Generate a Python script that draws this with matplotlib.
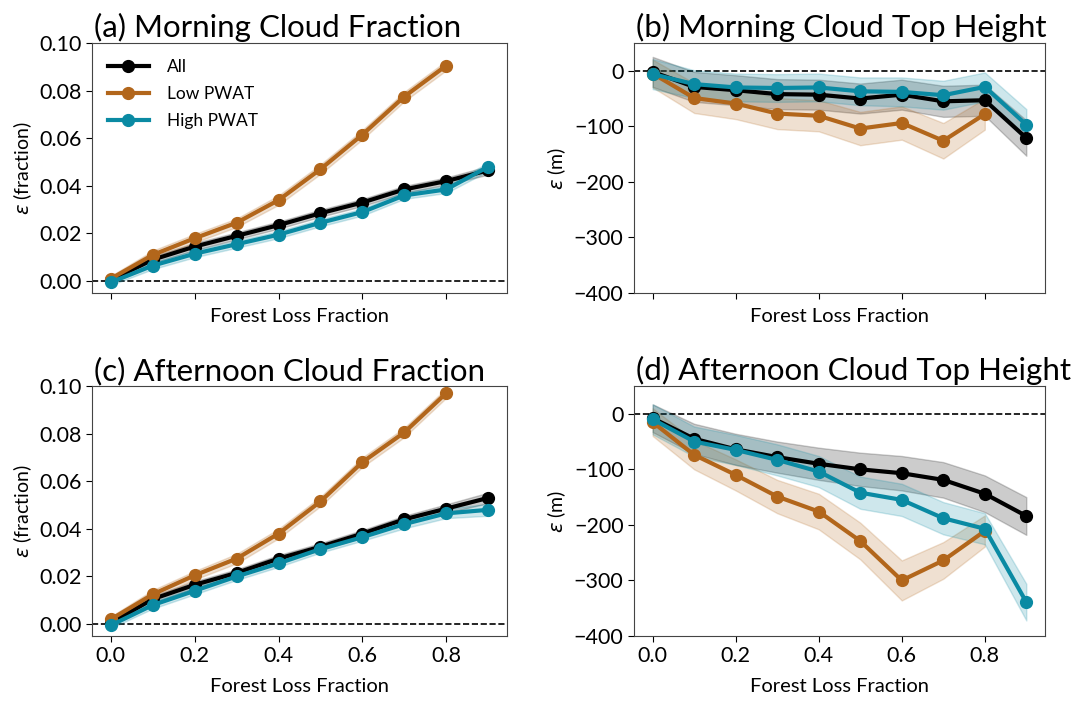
import matplotlib
matplotlib.use("Agg")
import matplotlib.pyplot as plt
import numpy as np

plt.rcParams['font.family'] = ['Lato', 'DejaVu Sans']
plt.rcParams['mathtext.fontset'] = 'dejavusans'

forest_loss = [0.0, 0.1, 0.2, 0.3, 0.4, 0.5, 0.6, 0.7, 0.8, 0.9]
forest_loss_low = [0.0, 0.1, 0.2, 0.3, 0.4, 0.5, 0.6, 0.7, 0.8]

# (a) Morning cloud fraction
a_all = [0.0005, 0.009, 0.0145, 0.019, 0.0235, 0.0285, 0.033, 0.0385, 0.042, 0.0465]
a_all_err = [0.0012, 0.0015, 0.0015, 0.0015, 0.0015, 0.0015, 0.0015, 0.0015, 0.0015, 0.0018]
a_low = [0.001, 0.011, 0.018, 0.0245, 0.034, 0.047, 0.0615, 0.0775, 0.0905]
a_low_err = [0.0012, 0.0018, 0.0018, 0.0018, 0.002, 0.002, 0.002, 0.002, 0.002]
a_high = [-0.0005, 0.0065, 0.0115, 0.0155, 0.0195, 0.0245, 0.029, 0.036, 0.0385, 0.048]
a_high_err = [0.0012, 0.0015, 0.0015, 0.0015, 0.0015, 0.0015, 0.0015, 0.0015, 0.0015, 0.0018]

# (b) Morning cloud top height
b_all = [-2, -29, -35, -42, -43, -50, -43, -55, -53, -121]
b_all_err = [27, 27, 27, 27, 27, 27, 27, 28, 28, 32]
b_low = [-5, -49, -59, -77, -81, -104, -94, -126, -78]
b_low_err = [25, 27, 28, 28, 28, 30, 30, 32, 28]
b_high = [-6, -24, -30, -31, -30, -37, -38, -44, -29, -97]
b_high_err = [27, 25, 25, 25, 25, 25, 26, 26, 26, 28]

# (c) Afternoon cloud fraction
c_all = [0.0005, 0.0105, 0.0165, 0.0215, 0.0275, 0.0325, 0.038, 0.044, 0.0485, 0.053]
c_all_err = [0.0012, 0.0015, 0.0015, 0.0015, 0.0015, 0.0015, 0.0015, 0.0015, 0.0018, 0.0022]
c_low = [0.002, 0.0125, 0.0205, 0.0275, 0.038, 0.0515, 0.068, 0.0805, 0.097]
c_low_err = [0.0012, 0.0018, 0.0018, 0.002, 0.002, 0.002, 0.002, 0.002, 0.002]
c_high = [-0.0005, 0.008, 0.014, 0.020, 0.0255, 0.0315, 0.0365, 0.042, 0.0465, 0.048]
c_high_err = [0.0012, 0.0015, 0.0015, 0.0015, 0.0015, 0.0015, 0.0015, 0.0018, 0.002, 0.0025]

# (d) Afternoon cloud top height
d_all = [-8, -45, -64, -78, -90, -100, -107, -119, -144, -184]
d_all_err = [25, 27, 28, 28, 29, 30, 31, 32, 33, 34]
d_low = [-15, -74, -110, -149, -176, -229, -300, -264, -211]
d_low_err = [25, 26, 28, 30, 32, 33, 36, 33, 28]
d_high = [-10, -50, -65, -83, -104, -142, -155, -188, -207, -339]
d_high_err = [27, 27, 27, 28, 28, 29, 29, 29, 28, 33]

titles = ["(a) Morning Cloud Fraction", "(b) Morning Cloud Top Height",
          "(c) Afternoon Cloud Fraction", "(d) Afternoon Cloud Top Height"]
ylabels = [r"$\varepsilon$ (fraction)", r"$\varepsilon$ (m)",
           r"$\varepsilon$ (fraction)", r"$\varepsilon$ (m)"]
labels = ["All", "Low PWAT", "High PWAT"]
colors = ["black", "#b2661b", "#0a8aa3"]

panels = [
    (a_all, a_all_err, a_low, a_low_err, a_high, a_high_err),
    (b_all, b_all_err, b_low, b_low_err, b_high, b_high_err),
    (c_all, c_all_err, c_low, c_low_err, c_high, c_high_err),
    (d_all, d_all_err, d_low, d_low_err, d_high, d_high_err),
]

fig = plt.figure(figsize=(10.86, 7.02), dpi=100)
W, H = 1086, 702
boxes = [(92, 43, 507, 293), (634, 43, 1045, 293),
         (92, 386, 507, 636), (634, 386, 1045, 636)]
axes = []
for (l, t, r, b) in boxes:
    ax = fig.add_axes([l / W, 1 - b / H, (r - l) / W, (b - t) / H])
    axes.append(ax)

for i, ax in enumerate(axes):
    allv, alle, lowv, lowe, highv, highe = panels[i]
    series = [(forest_loss, allv, alle), (forest_loss_low, lowv, lowe), (forest_loss, highv, highe)]
    ax.axhline(0, color='black', linestyle='--', linewidth=1.2, zorder=1)
    for (x, y, e), c, lab in zip(series, colors, labels):
        x = np.array(x); y = np.array(y); e = np.array(e)
        ax.fill_between(x, y - e, y + e, color=c, alpha=0.2, linewidth=1, zorder=2)
        ax.plot(x, y, '-o', color=c, linewidth=3, markersize=8.5, label=lab, zorder=3)
    ax.set_title(titles[i], fontsize=22.5, loc='left', x=0.005, pad=4)
    ax.set_ylabel(ylabels[i], fontsize=14)
    ax.set_xlabel("Forest Loss Fraction", fontsize=14.5, labelpad=8)
    ax.set_xticks([0.0, 0.2, 0.4, 0.6, 0.8])
    ax.tick_params(labelsize=15.5, length=4)
    for s in ax.spines.values():
        s.set_color('#444444')
    if i in (0, 2):
        ax.set_ylim(-0.005, 0.1)
        ax.set_yticks([0.0, 0.02, 0.04, 0.06, 0.08, 0.10])
        ax.set_yticklabels(["0.00", "0.02", "0.04", "0.06", "0.08", "0.10"])
    else:
        ax.set_ylim(-400, 50)
        ax.set_yticks([0, -100, -200, -300, -400])
        ax.set_yticklabels(["0", "\u2212100", "\u2212200", "\u2212300", "\u2212400"])
    ax.set_xlim(-0.045, 0.945)
    if i in (0, 1):
        ax.tick_params(labelbottom=False)
        ax.xaxis.labelpad = 7

axes[0].legend(loc='upper left', frameon=False, fontsize=12.5, handlelength=2.4,
               borderaxespad=0.5, labelspacing=0.65, handletextpad=1.0)

fig.savefig("out.png", dpi=100)
